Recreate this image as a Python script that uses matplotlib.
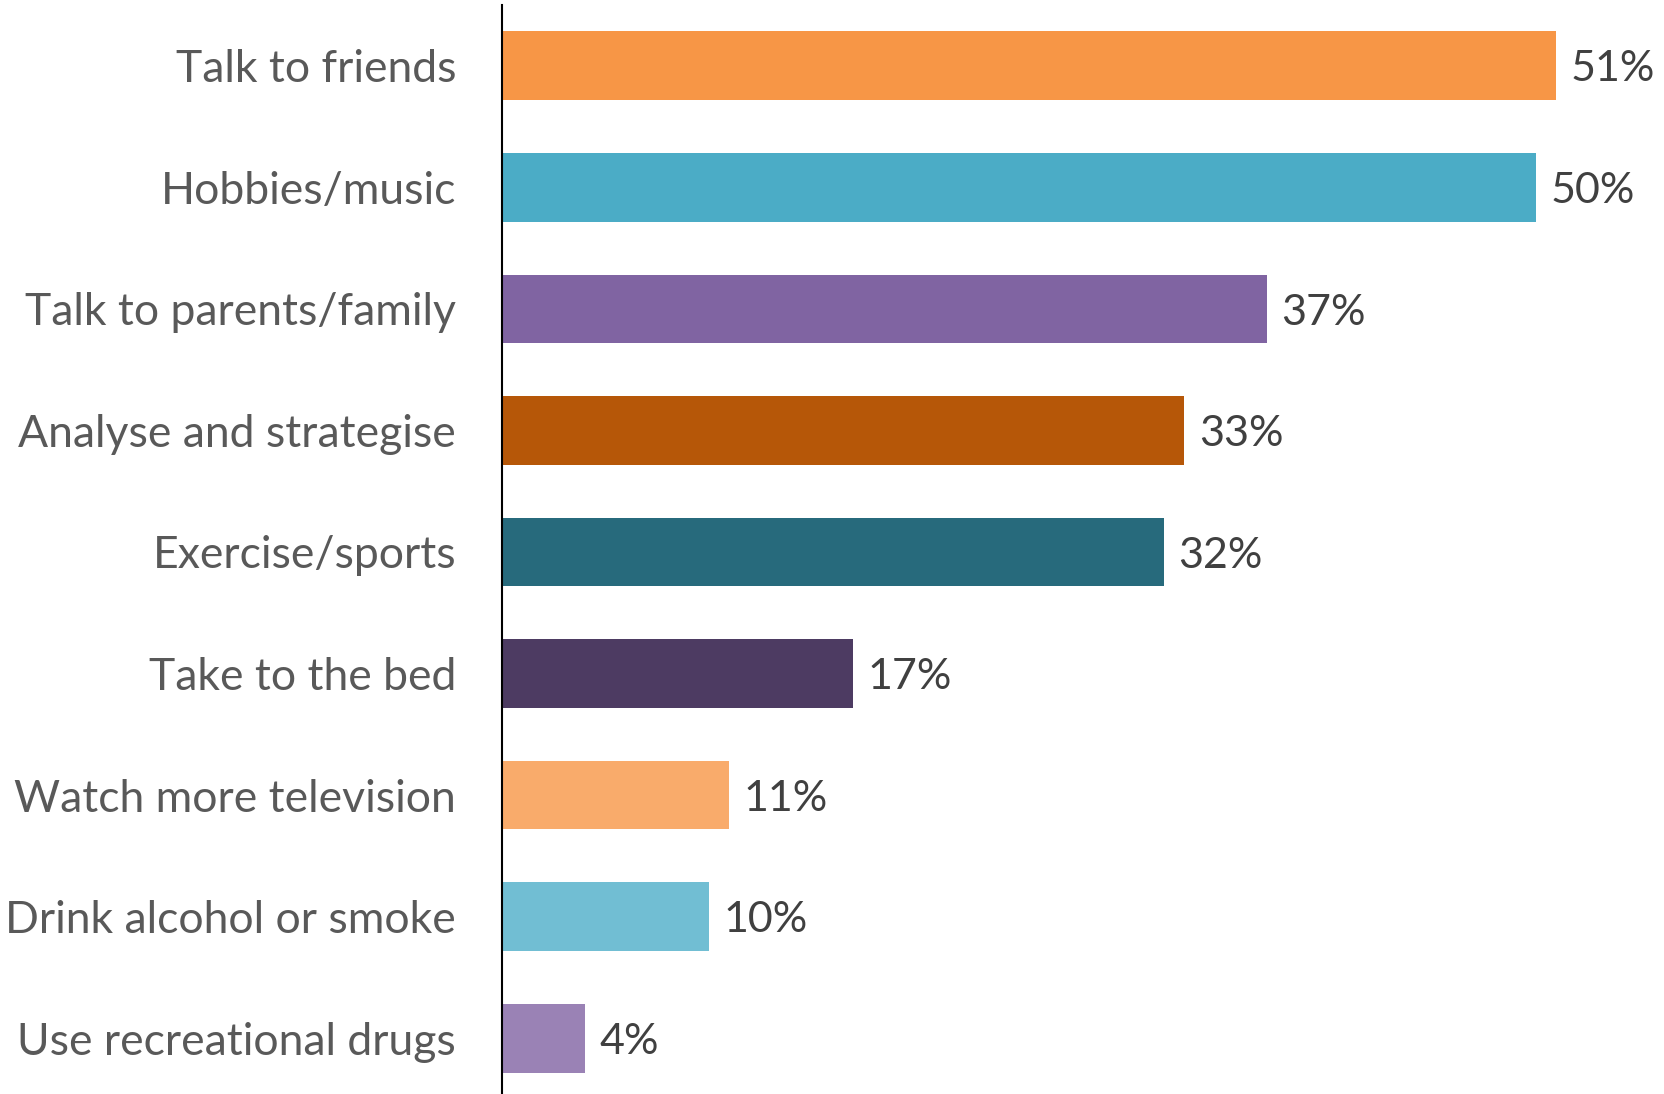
import matplotlib.pyplot as plt

# Coping strategies, share of respondents (%)
categories = ['Talk to friends', 'Hobbies/music', 'Talk to parents/family',
              'Analyse and strategise', 'Exercise/sports', 'Take to the bed',
              'Watch more television', 'Drink alcohol or smoke',
              'Use recreational drugs']
values = [51, 50, 37, 33, 32, 17, 11, 10, 4]
colours = ['#F79646', '#4BACC6', '#8064A2', '#B65708', '#276A7C',
           '#4D3B62', '#F9AB6B', '#71BED3', '#9A82B5']

plt.rcParams['font.family'] = ['Lato', 'DejaVu Sans']

W, H = 1664, 1094
fig = plt.figure(figsize=(W / 100, H / 100), dpi=100)
# axes runs a little past the bottom edge so the last row keeps full spacing
ax = fig.add_axes([502 / W, -5 / H, 1 - 502 / W, H / H])

ypos = list(range(len(categories)))
bars = ax.barh(ypos, values, height=0.565, color=colours)
ax.set_ylim(len(categories) - 0.5, -0.5)
ax.set_xlim(0, 56.2)

ax.set_yticks(ypos)
ax.set_yticklabels(categories, fontsize=32, color='#595959')
ax.tick_params(axis='y', length=0, pad=33)
ax.set_xticks([])

for side in ['top', 'right', 'bottom']:
    ax.spines[side].set_visible(False)
ax.spines['left'].set_color('#000000')
ax.spines['left'].set_linewidth(1.5)

# Value labels at the end of each bar
for bar, val in zip(bars, values):
    ax.text(bar.get_width() + 0.7, bar.get_y() + bar.get_height() / 2 + 0.03,
            f'{val}%', ha='left', va='center', fontsize=31, color='#404040')

fig.savefig('out.png', dpi=100)
